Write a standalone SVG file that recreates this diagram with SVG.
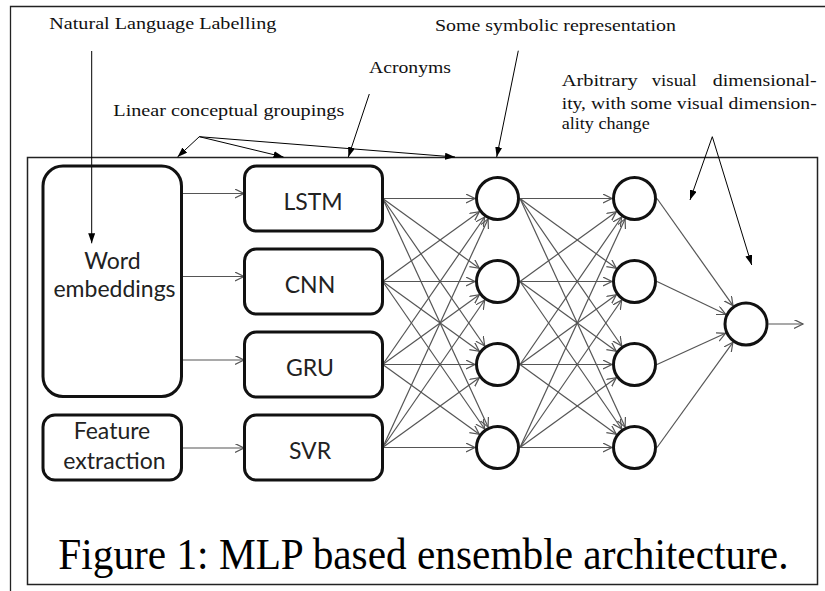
<svg xmlns="http://www.w3.org/2000/svg" width="825" height="591" viewBox="0 0 825 591">
<style>
.ann{font-family:"Liberation Serif","DejaVu Serif",serif;font-size:17.5px;fill:#111}
.lbl{font-family:Lato,"Open Sans","Liberation Sans",sans-serif;font-size:23px;fill:#222;text-anchor:middle}
.box{fill:none;stroke:#111;stroke-width:3}
.neu{fill:#fff;stroke:#111;stroke-width:3}
.cn{stroke:#555;stroke-width:1.2;fill:none;marker-end:url(#chev)}
.an{stroke:#000;stroke-width:1;fill:none;marker-end:url(#tri)}
.frame{fill:none;stroke:#222;stroke-width:1.5}
</style>
<defs>
<marker id="chev" markerUnits="userSpaceOnUse" markerWidth="12" markerHeight="12" refX="9" refY="4.5" orient="auto">
<path d="M0,0 L9,4.5 L0,9" fill="none" stroke="#555" stroke-width="1.2"/>
</marker>
<marker id="tri" markerUnits="userSpaceOnUse" markerWidth="12" markerHeight="10" refX="10" refY="3.5" orient="auto">
<path d="M0,0 L10,3.5 L0,7 z" fill="#000"/>
</marker>
</defs>
<rect width="825" height="591" fill="#fff"/>
<path d="M10.5,591 V6.5 H825" fill="none" stroke="#222" stroke-width="1.3"/>
<rect class="frame" x="27.5" y="157.5" width="790" height="427"/>

<g id="annotations">
<text class="ann" x="49.3" y="28.5" textLength="227" lengthAdjust="spacingAndGlyphs">Natural Language Labelling</text>
<text class="ann" x="435" y="30.5" textLength="241" lengthAdjust="spacingAndGlyphs">Some symbolic representation</text>
<text class="ann" x="369" y="73" textLength="82" lengthAdjust="spacingAndGlyphs">Acronyms</text>
<text class="ann" x="113.3" y="116" textLength="231" lengthAdjust="spacingAndGlyphs">Linear conceptual groupings</text>
<text class="ann" x="561.7" y="86" textLength="76" lengthAdjust="spacingAndGlyphs">Arbitrary</text>
<text class="ann" x="651.7" y="86" textLength="45" lengthAdjust="spacingAndGlyphs">visual</text>
<text class="ann" x="712.7" y="86" textLength="104" lengthAdjust="spacingAndGlyphs">dimensional-</text>
<text class="ann" x="561.7" y="109.3" textLength="255" lengthAdjust="spacingAndGlyphs">ity, with some visual dimension-</text>
<text class="ann" x="561.7" y="128.5" textLength="88" lengthAdjust="spacingAndGlyphs">ality change</text>
</g>

<g id="connectors">
<!-- annotation arrows -->
<line class="an" x1="91.7" y1="51" x2="91.7" y2="243.3"/>
<line class="an" x1="199.3" y1="136.7" x2="177.5" y2="157"/>
<line class="an" x1="199.3" y1="136.7" x2="283.5" y2="157"/>
<line class="an" x1="199.3" y1="136.7" x2="455" y2="157"/>
<line class="an" x1="369.3" y1="94" x2="348.3" y2="157"/>
<line class="an" x1="518.3" y1="50.7" x2="496.7" y2="157"/>
<line class="an" x1="712.3" y1="136.7" x2="690" y2="200"/>
<line class="an" x1="712.3" y1="136.7" x2="751.7" y2="265"/>
<!-- inputs -->
<line class="cn" x1="181.7" y1="193.5" x2="244" y2="193.5"/>
<line class="cn" x1="181.7" y1="276.5" x2="244" y2="276.5"/>
<line class="cn" x1="181.7" y1="360" x2="244" y2="360"/>
<line class="cn" x1="181.7" y1="448" x2="244" y2="448"/>
<!-- boxes to layer 1 -->
<g>
<line class="cn" x1="382.7" y1="198.5" x2="475" y2="198.5"/>
<line class="cn" x1="382.7" y1="198.5" x2="479.3" y2="268.3"/>
<line class="cn" x1="382.7" y1="198.5" x2="484.7" y2="346"/>
<line class="cn" x1="382.7" y1="198.5" x2="488.1" y2="427.1"/>
<line class="cn" x1="382.7" y1="281.5" x2="479.3" y2="211.7"/>
<line class="cn" x1="382.7" y1="281.5" x2="475" y2="281.5"/>
<line class="cn" x1="382.7" y1="281.5" x2="479.3" y2="351.3"/>
<line class="cn" x1="382.7" y1="281.5" x2="484.7" y2="429"/>
<line class="cn" x1="382.7" y1="364.5" x2="484.7" y2="217"/>
<line class="cn" x1="382.7" y1="364.5" x2="479.3" y2="294.7"/>
<line class="cn" x1="382.7" y1="364.5" x2="475" y2="364.5"/>
<line class="cn" x1="382.7" y1="364.5" x2="479.3" y2="434.3"/>
<line class="cn" x1="382.7" y1="447.5" x2="488.1" y2="218.9"/>
<line class="cn" x1="382.7" y1="447.5" x2="484.7" y2="300"/>
<line class="cn" x1="382.7" y1="447.5" x2="479.3" y2="377.7"/>
<line class="cn" x1="382.7" y1="447.5" x2="475" y2="447.5"/>
</g>
<!-- layer 1 to layer 2 -->
<g>
<line class="cn" x1="520" y1="198.5" x2="612" y2="198.5"/>
<line class="cn" x1="520" y1="198.5" x2="616.3" y2="268.3"/>
<line class="cn" x1="520" y1="198.5" x2="621.7" y2="346"/>
<line class="cn" x1="520" y1="198.5" x2="625.1" y2="427.1"/>
<line class="cn" x1="520" y1="281.5" x2="616.3" y2="211.7"/>
<line class="cn" x1="520" y1="281.5" x2="612" y2="281.5"/>
<line class="cn" x1="520" y1="281.5" x2="616.3" y2="351.3"/>
<line class="cn" x1="520" y1="281.5" x2="621.7" y2="429"/>
<line class="cn" x1="520" y1="364.5" x2="621.7" y2="217"/>
<line class="cn" x1="520" y1="364.5" x2="616.3" y2="294.7"/>
<line class="cn" x1="520" y1="364.5" x2="612" y2="364.5"/>
<line class="cn" x1="520" y1="364.5" x2="616.3" y2="434.3"/>
<line class="cn" x1="520" y1="447.5" x2="625.1" y2="218.9"/>
<line class="cn" x1="520" y1="447.5" x2="621.7" y2="300"/>
<line class="cn" x1="520" y1="447.5" x2="616.3" y2="377.7"/>
<line class="cn" x1="520" y1="447.5" x2="612" y2="447.5"/>
</g>
<!-- layer 2 to output -->
<line class="cn" x1="657" y1="198.5" x2="733" y2="305.6"/>
<line class="cn" x1="657" y1="281.5" x2="725.7" y2="314.3"/>
<line class="cn" x1="657" y1="364.5" x2="725.5" y2="333.3"/>
<line class="cn" x1="657" y1="447.5" x2="732.9" y2="342.3"/>
<line class="cn" x1="768.5" y1="324" x2="803" y2="324"/>
</g>

<g id="word-embeddings">
<rect class="box" x="43" y="166" width="138.5" height="230.5" rx="20"/>
<text class="lbl" x="112.5" y="268.5">Word</text>
<text class="lbl" x="114.5" y="297">embeddings</text>
</g>
<g id="feature-extraction">
<rect class="box" x="43" y="415" width="138.5" height="65" rx="12"/>
<text class="lbl" x="112" y="438.5">Feature</text>
<text class="lbl" x="114.5" y="468.5">extraction</text>
</g>
<g id="lstm"><rect class="box" x="244.5" y="166" width="138" height="65" rx="12"/><text class="lbl" x="313" y="210">LSTM</text></g>
<g id="cnn"><rect class="box" x="244.5" y="249" width="138" height="65" rx="12"/><text class="lbl" x="310" y="293">CNN</text></g>
<g id="gru"><rect class="box" x="244.5" y="332" width="138" height="65" rx="12"/><text class="lbl" x="310" y="376">GRU</text></g>
<g id="svr"><rect class="box" x="244.5" y="415" width="138" height="65" rx="12"/><text class="lbl" x="310" y="459">SVR</text></g>

<g id="h1-1"><circle class="neu" cx="497.5" cy="198.5" r="21"/></g>
<g id="h1-2"><circle class="neu" cx="497.5" cy="281.5" r="21"/></g>
<g id="h1-3"><circle class="neu" cx="497.5" cy="364.5" r="21"/></g>
<g id="h1-4"><circle class="neu" cx="497.5" cy="447.5" r="21"/></g>
<g id="h2-1"><circle class="neu" cx="634.5" cy="198.5" r="21"/></g>
<g id="h2-2"><circle class="neu" cx="634.5" cy="281.5" r="21"/></g>
<g id="h2-3"><circle class="neu" cx="634.5" cy="364.5" r="21"/></g>
<g id="h2-4"><circle class="neu" cx="634.5" cy="447.5" r="21"/></g>
<g id="output"><circle class="neu" cx="746" cy="324" r="21"/></g>

<g id="caption" transform="translate(58.3,569) scale(0.918,1)">
<text x="0" y="0" font-family="'Liberation Serif','Times New Roman',serif" font-size="45" fill="#000">Figure 1: MLP based ensemble architecture.</text>
</g>
</svg>
